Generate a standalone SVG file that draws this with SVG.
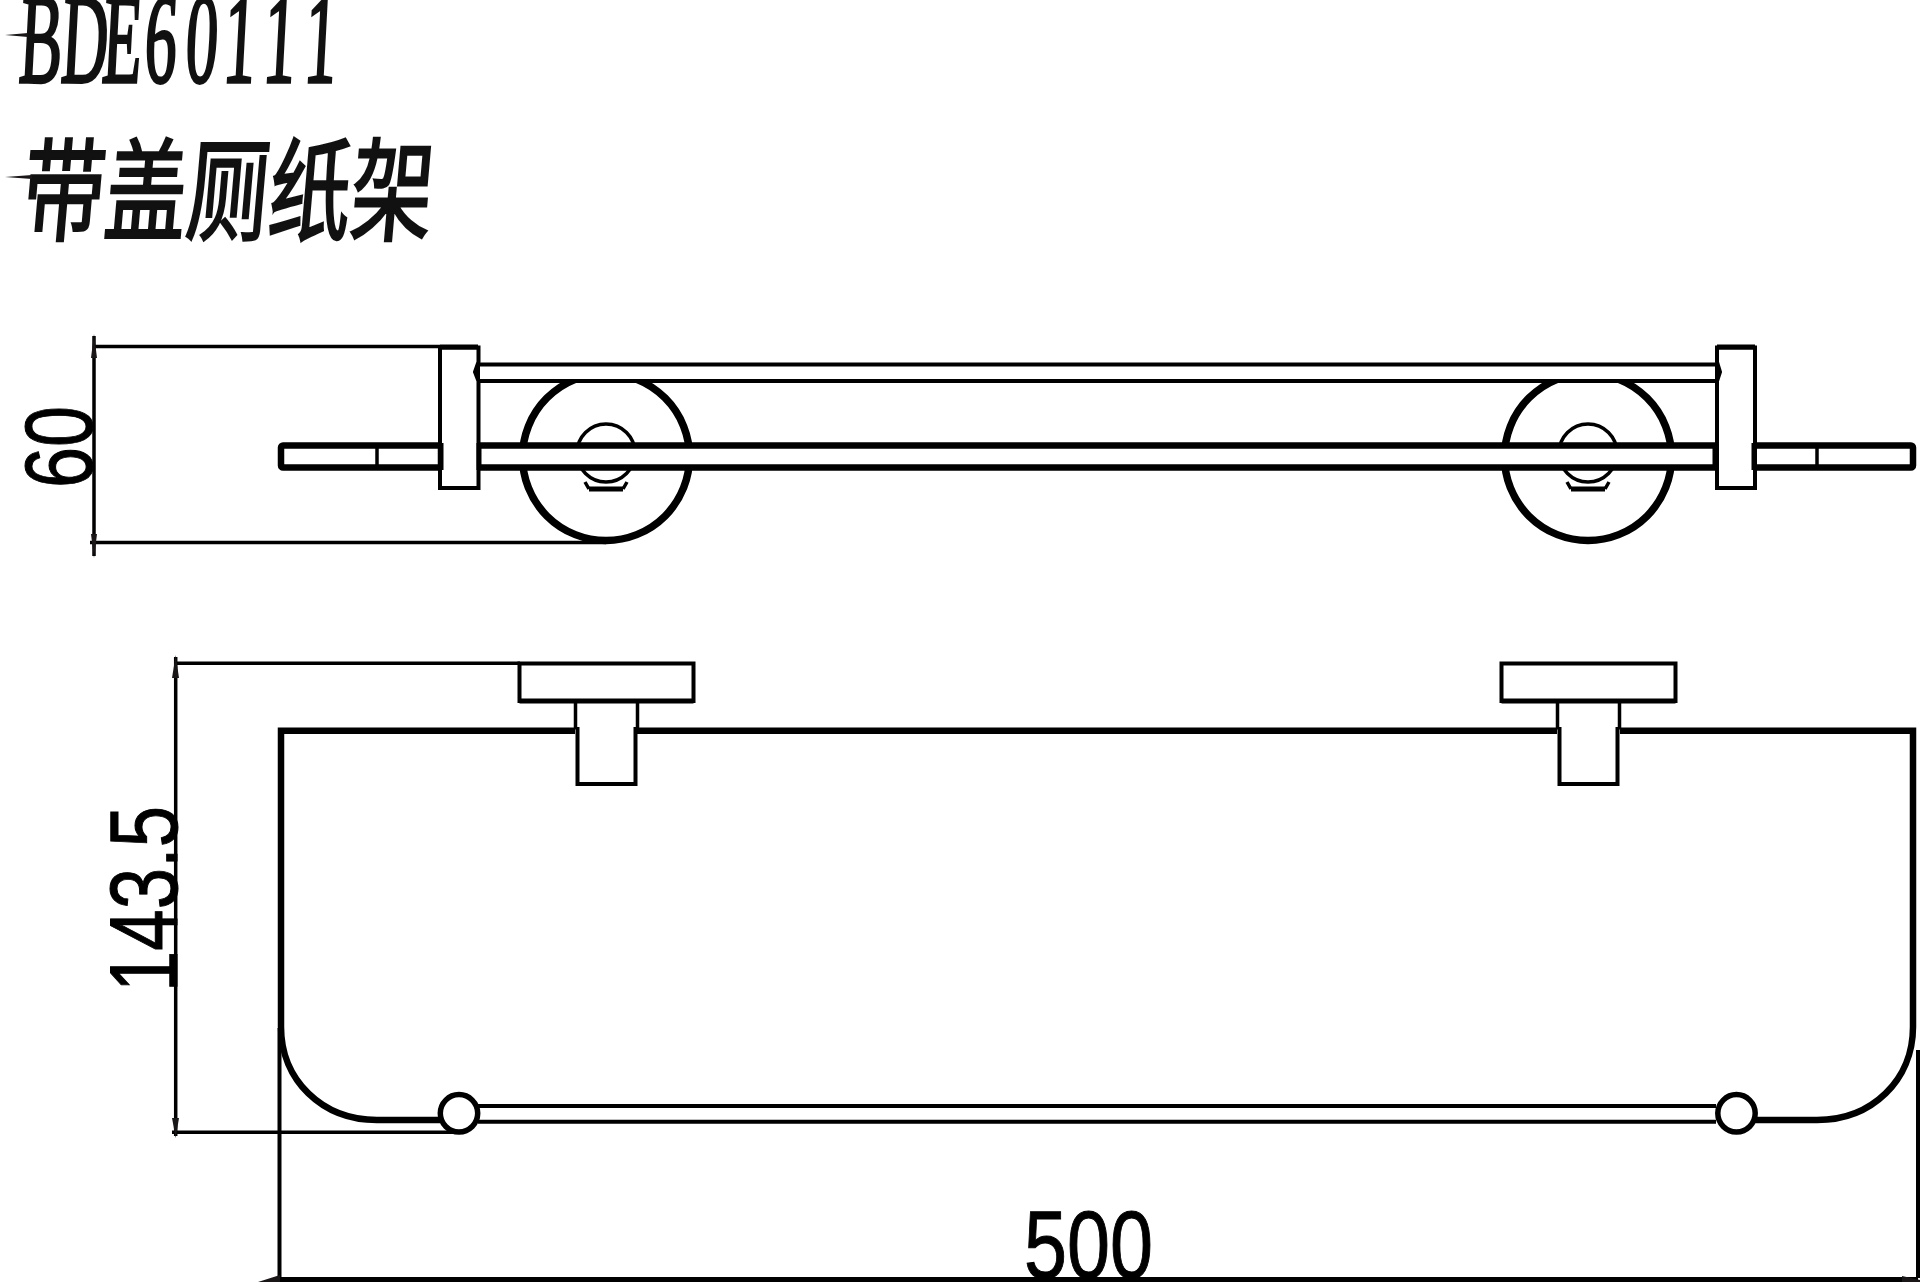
<svg xmlns="http://www.w3.org/2000/svg" xmlns:xlink="http://www.w3.org/1999/xlink" width="1920" height="1282" viewBox="0 0 1920 1282">
<style>
.l{fill:none;stroke:#000;stroke-width:4}
.t{fill:none;stroke:#000;stroke-width:3.5}
.h{fill:none;stroke:#000;stroke-width:6.5}
.w{fill:#fff;stroke:#000;stroke-width:4}
.a{fill:#1a1517;stroke:none}
.d{font-family:"Liberation Sans",Arial,sans-serif;font-size:96px;fill:#000;stroke:#000;stroke-width:1}
.s{font-family:"Liberation Serif",serif;font-size:128px;fill:#111;stroke:#111;stroke-width:3.5}
.c{font-family:"Liberation Serif","Noto Sans CJK SC",serif;font-size:112px;fill:#111;stroke:#111;stroke-width:2.5}
</style>
<defs>
<g id="hub">
<circle cx="0" cy="0" r="83.500" fill="#fff" stroke="#000" stroke-width="7.500"/>
<circle cx="0" cy="-4" r="29" class="t"/>
<path class="l" style="stroke-width:5" d="M-17 32H17"/>
<path class="t" d="M-21 25L-17 32M21 25L17 32"/>
</g>
<g id="mount">
<rect x="-87" y="0" width="174" height="37.500" class="l"/>
<path class="l" style="stroke-width:5" d="M-87 37.500H87"/>
<path class="t" d="M-31 37.500V66M31 37.500V66"/>
</g>
</defs>
<rect width="1920" height="1282" fill="#fff"/>
<g id="title">
<text class="s" transform="translate(0,82) scale(0.5,1) skewX(-6)" x="36 120 202 286 368 444 524 606" y="0">BDE60111</text>
<polygon class="a" points="5,35 28,33 28,37"/>
<text class="c" transform="translate(20,232) skewX(-5)" textLength="410" lengthAdjust="spacingAndGlyphs">带盖厕纸架</text>
<polygon class="a" points="5,177 32,175 32,179"/>
</g>
<g id="top-view">
<use xlink:href="#hub" href="#hub" x="606" y="457"/>
<use xlink:href="#hub" href="#hub" x="1588" y="457"/>
<rect id="rail" x="478" y="364.500" width="1239" height="16.500" class="w"/>
<rect id="glass-left" x="281" y="445.500" width="160" height="22" rx="2" fill="#fff" stroke="#000" stroke-width="6.500"/>
<path class="t" d="M377 446V467"/>
<rect id="glass-right" x="1753" y="445.500" width="160" height="22" rx="2" fill="#fff" stroke="#000" stroke-width="6.500"/>
<path class="t" d="M1817 446V467"/>
<rect id="glass-main" x="477" y="445.500" width="1240" height="22" fill="#fff" stroke="#000" stroke-width="6.500"/>
<path id="bracket-left" class="w" d="M440 347.500H478.500V362L475 372L478.500 381V488H440Z"/>
<path id="bracket-right" class="w" d="M1717 347.500H1755V488H1717V381L1720 372L1717 362Z"/>
<path class="h" style="stroke-width:5" d="M440 347H478M1717 347H1755M479 443V470M1715 443V470M441 443V470M1754 443V470"/>
</g>
<g id="front-view">
<use xlink:href="#mount" href="#mount" x="606.500" y="663.500"/>
<use xlink:href="#mount" href="#mount" x="1588.500" y="663.500"/>
<path id="shelf" class="h" d="M575 730.700H281V1027C281 1080 322 1120 377 1120H440M1754 1120H1817C1872 1120 1913 1080 1913 1027V730.700H1620M637 730.700H1557"/>
<path class="l" d="M577.500 727V784H635.500V727M1559.500 727V784H1617.500V727"/>
<path id="rail-front" class="l" d="M478 1106H1716M478 1121.700H1716"/>
<circle cx="459" cy="1113.300" r="18.700" fill="#fff" stroke="#000" stroke-width="5.500"/>
<circle cx="1736.500" cy="1113.300" r="18.700" fill="#fff" stroke="#000" stroke-width="5.500"/>
</g>
<g id="dimensions">
<path class="t" d="M94 346.500H440M94 336V556M90 542.500H606"/>
<polygon class="a" points="94,334 97,358 91,358"/>
<polygon class="a" points="94,558 97,534 91,534"/>
<text class="d" transform="translate(92,488) rotate(-90)" textLength="82" lengthAdjust="spacingAndGlyphs">60</text>
<path class="t" d="M175.700 663.300H520M175.700 657V1136M172 1132.300H462"/>
<polygon class="a" points="175.700,655 179,678 172,678"/>
<polygon class="a" points="175.700,1138 179,1118 172,1118"/>
<text class="d" transform="translate(177,992) rotate(-90)" textLength="186" lengthAdjust="spacingAndGlyphs">143.5</text>
<path class="l" d="M279.500 1028V1278M1918 1050V1278"/>
<path style="fill:none;stroke:#000;stroke-width:5" d="M279 1279.500H1918"/>
<polygon class="a" points="258,1282 280,1275 280,1282"/>
<polygon class="a" points="1902,1276 1920,1280 1920,1282 1902,1282"/>
<text class="d" transform="translate(1024,1278)" textLength="129" lengthAdjust="spacingAndGlyphs">500</text>
</g>
</svg>
